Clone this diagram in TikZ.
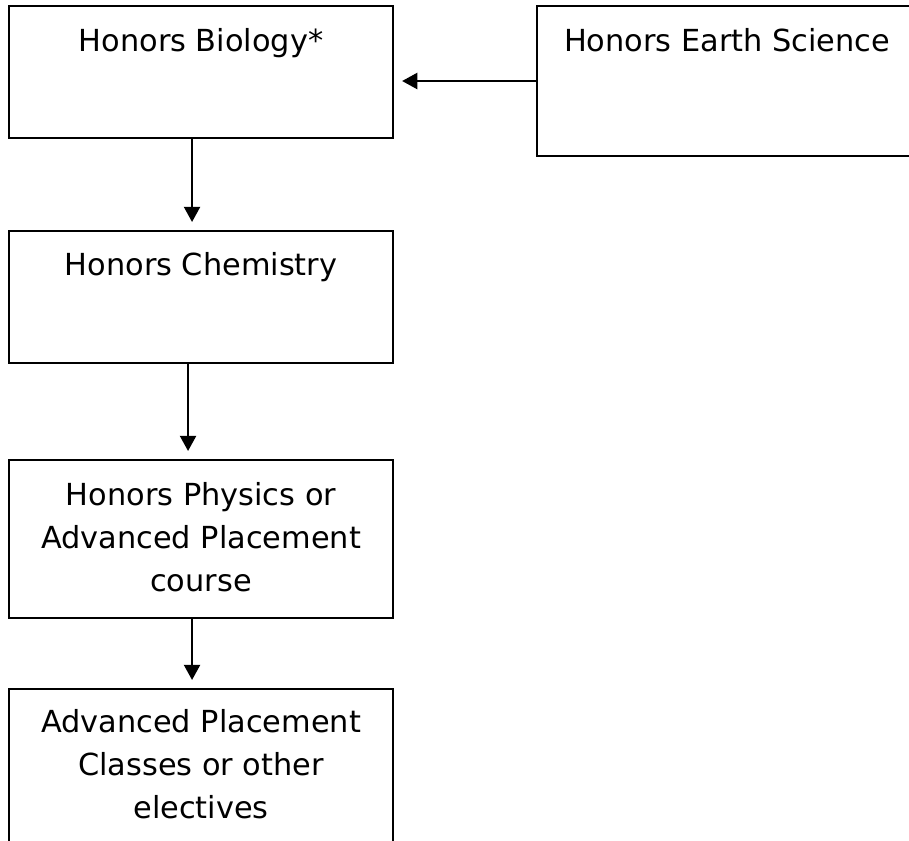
\documentclass[tikz,border=0pt]{standalone}
\usepackage{fontspec}
\setmainfont{DejaVu Sans}
\usetikzlibrary{arrows.meta,positioning}

\tikzset{
  course/.style={draw, line width=1.7pt, inner sep=0pt, outer sep=0pt,
    anchor=north west, minimum width=9.6cm},
  title/.style={anchor=north, inner sep=0pt, align=center,
    font=\fontsize{21.6}{30.6}\selectfont},
  link/.style={-{Triangle[length=0.38cm,width=0.4cm]}, line width=1.7pt,
    shorten >=0.225cm}
}

\begin{document}
\begin{tikzpicture}[x=0.025cm, y=-0.025cm]
    % Page frame
    \clip (0,0) rectangle (909,841);

    % Course boxes
    \node[course, minimum height=3.3cm] (bio) at (9,6) {};
    \node[course, minimum width=9.5cm, minimum height=3.75cm] (earth) at (537,6) {};
    \node[course, minimum height=3.3cm] (chem) at (9,231) {};
    \node[course, minimum height=3.95cm] (phys) at (9,460) {};
    \node[course, minimum height=4.1cm] (ap) at (9,689) {};

    % Course names
    \node[title, below=0.55cm of bio.north] (biotext) {Honors Biology*};
    \node[title, below=0.55cm of earth.north] (earthtext) {Honors Earth Science};
    \node[title, below=0.53cm of chem.north] (chemtext) {Honors Chemistry};
    \node[title, below=0.56cm of phys.north] (phystext) {Honors Physics or\\Advanced Placement\\course};
    \node[title, below=0.51cm of ap.north] (aptext) {Advanced Placement\\Classes or other\\electives};

    % Arrows between courses
    \draw[link] (earth.west) -- (earth.west -| bio.east);
    \draw[link] ([xshift=-0.225cm]bio.south) -- ([xshift=-0.225cm]chem.north);
    \draw[link] ([xshift=-0.325cm]chem.south) -- ([xshift=-0.325cm]phys.north);
    \draw[link] ([xshift=-0.225cm]phys.south) -- ([xshift=-0.225cm]ap.north);
\end{tikzpicture}
\end{document}
